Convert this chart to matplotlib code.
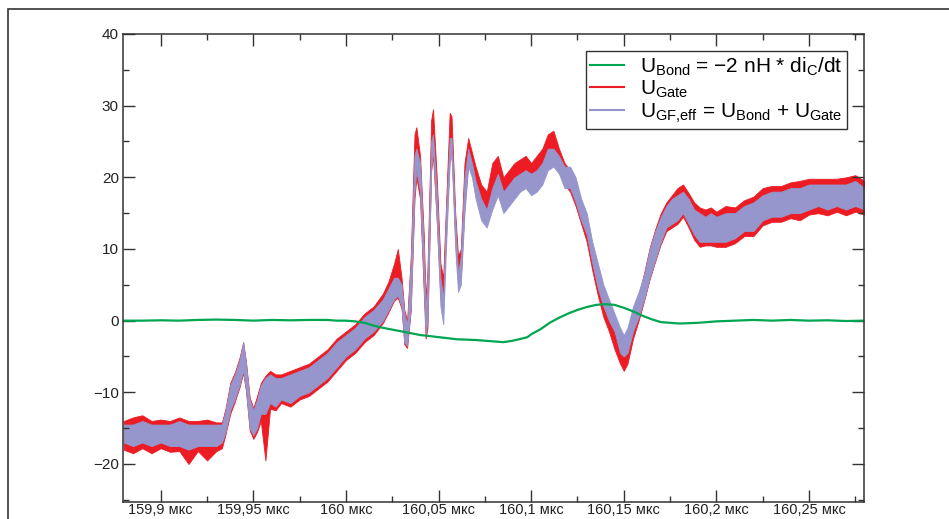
import matplotlib
matplotlib.use("Agg")
import matplotlib.pyplot as plt
from matplotlib.lines import Line2D
from matplotlib.patches import Rectangle
from matplotlib.ticker import MultipleLocator, FuncFormatter

plt.rcParams['font.family'] = ['Liberation Sans', 'DejaVu Sans']
plt.rcParams['mathtext.fontset'] = 'custom'
plt.rcParams['mathtext.rm'] = 'Liberation Sans'

# ---- data (time in us, voltage in V) ----
# noisy signals given as lower / upper envelope of the trace
t_sig = [159.880, 159.885, 159.890, 159.895, 159.900, 159.905, 159.910, 159.915,
         159.920, 159.925, 159.930, 159.933, 159.935, 159.9375, 159.940, 159.9425,
         159.9445, 159.946, 159.948, 159.950, 159.952, 159.954, 159.9565, 159.959,
         159.962, 159.965, 159.970, 159.975, 159.980, 159.985, 159.990, 159.995,
         160.000, 160.005, 160.010, 160.015, 160.020, 160.023, 160.026, 160.028,
         160.030, 160.0315, 160.033, 160.035, 160.037, 160.038, 160.040, 160.042,
         160.043, 160.044, 160.046, 160.047, 160.049, 160.051, 160.0525, 160.054,
         160.056, 160.057, 160.059, 160.0605, 160.062, 160.064, 160.066, 160.068,
         160.070, 160.073, 160.076, 160.079, 160.082, 160.085, 160.088, 160.091,
         160.094, 160.097, 160.100, 160.103, 160.106, 160.109, 160.112, 160.115,
         160.118, 160.121, 160.124, 160.127, 160.130, 160.133, 160.136, 160.139,
         160.142, 160.145, 160.148, 160.150, 160.152, 160.155, 160.158, 160.161,
         160.164, 160.167, 160.170, 160.173, 160.176, 160.179, 160.182, 160.185,
         160.188, 160.191, 160.194, 160.197, 160.200, 160.205, 160.210, 160.215,
         160.220, 160.225, 160.230, 160.235, 160.240, 160.245, 160.250, 160.255,
         160.260, 160.265, 160.270, 160.275, 160.280]

u_gf_lo = [-17.0, -17.5, -17.0, -17.5, -17.0, -17.5, -17.5, -18.0,
           -17.5, -17.5, -17.5, -17.0, -15.5, -12.5, -11.0, -9.0,
           -7.0, -9.5, -15.0, -16.0, -15.0, -13.0, -13.0, -11.5,
           -12.0, -11.0, -11.5, -10.5, -10.0, -9.0, -8.0, -6.5,
           -5.0, -4.0, -2.5, -1.5, 0.0, 1.5, 3.0, 3.5,
           2.0, -3.0, -3.5, 2.0, 18.0, 21.0, 18.0, 5.0,
           -2.0, 0.0, 21.0, 24.0, 14.0, 2.0, -0.5, 10.0,
           22.0, 23.0, 10.0, 4.0, 5.0, 15.0, 21.5, 20.0,
           17.0, 14.0, 13.0, 15.5, 17.5, 15.0, 16.0, 17.0,
           18.0, 18.5, 17.5, 18.0, 19.0, 21.0, 21.5, 20.5,
           18.5, 18.5, 16.5, 14.0, 12.0, 8.0, 4.5, 2.0,
           0.0, -1.5, -4.5, -5.0, -4.5, -1.5, 0.5, 3.0,
           6.0, 8.5, 11.0, 13.0, 13.5, 14.0, 15.0, 13.5,
           12.0, 11.0, 11.0, 11.0, 11.0, 11.0, 11.5, 12.5,
           12.5, 14.0, 14.5, 14.5, 15.0, 15.0, 15.5, 16.0,
           15.5, 16.0, 15.5, 16.0, 15.5]

u_gf_hi = [-14.5, -14.5, -14.0, -14.5, -14.5, -14.5, -14.0, -14.5,
           -14.5, -14.5, -14.5, -14.5, -12.5, -9.0, -7.5, -5.5,
           -3.0, -6.0, -11.0, -12.5, -11.0, -9.0, -8.0, -7.5,
           -8.0, -8.0, -7.5, -7.0, -6.5, -5.5, -4.5, -3.0,
           -2.0, -1.0, 0.5, 1.5, 3.0, 4.5, 6.0, 6.0,
           5.0, 1.0, -0.5, 8.0, 23.0, 24.0, 22.0, 10.0,
           1.0, 6.0, 25.0, 26.0, 18.0, 6.0, 3.0, 15.0,
           25.5, 25.5, 14.0, 6.5, 9.0, 20.0, 24.0, 22.0,
           19.5, 17.0, 15.5, 18.5, 20.5, 18.0, 19.0, 20.0,
           20.5, 21.0, 20.5, 21.0, 22.0, 24.0, 24.0, 23.0,
           21.5, 21.5, 20.0, 17.0, 15.0, 11.0, 8.0, 5.0,
           3.0, 1.0, -1.0, -2.0, -1.0, 2.0, 4.0, 6.5,
           10.0, 12.5, 14.5, 16.0, 17.0, 17.5, 18.0, 17.0,
           15.5, 15.0, 14.5, 15.0, 14.5, 15.0, 15.0, 16.0,
           16.5, 17.5, 18.0, 18.0, 18.5, 18.5, 19.0, 19.0,
           19.0, 19.0, 19.0, 19.5, 18.5]

u_gate_lo = [-18.0, -18.5, -17.8, -18.5, -17.8, -18.3, -18.2, -20.0,
             -18.2, -19.5, -18.2, -17.8, -15.8, -13.0, -11.3, -9.3,
             -7.3, -9.8, -15.3, -16.5, -15.5, -14.0, -19.5, -12.3,
             -12.5, -11.5, -12.0, -11.0, -10.5, -9.5, -8.5, -7.0,
             -5.5, -4.5, -3.0, -2.0, -0.3, 1.2, 2.8, 3.2,
             1.7, -3.3, -3.8, 1.5, 17.0, 20.0, 17.0, 4.0,
             -2.5, -1.0, 21.0, 23.0, 14.0, 3.0, 3.0, 12.0,
             23.0, 24.0, 11.0, 5.5, 6.0, 16.0, 22.0, 20.5,
             18.5, 16.0, 15.0, 18.0, 19.0, 17.0, 18.0, 19.0,
             20.0, 20.0, 19.5, 19.5, 20.5, 22.5, 22.5, 21.0,
             19.0, 18.0, 16.0, 13.5, 11.0, 7.0, 3.5, 0.5,
             -1.5, -4.0, -6.0, -7.0, -6.0, -2.5, 0.0, 2.8,
             5.8, 8.3, 10.7, 12.5, 13.0, 13.5, 14.5, 13.0,
             11.3, 10.3, 10.5, 10.5, 10.3, 10.3, 10.8, 11.8,
             11.8, 13.3, 13.8, 13.8, 14.3, 14.0, 14.8, 15.0,
             14.7, 15.2, 14.7, 15.2, 14.8]

u_gate_hi = [-14.0, -13.5, -13.2, -14.0, -13.8, -14.0, -13.5, -14.0,
             -14.0, -13.8, -14.2, -14.2, -12.2, -8.7, -7.2, -5.2,
             -3.0, -5.7, -10.7, -12.2, -10.5, -8.7, -7.7, -7.0,
             -7.5, -7.5, -7.0, -6.5, -6.0, -5.0, -4.0, -2.5,
             -1.5, -0.5, 1.0, 2.0, 3.8, 5.5, 8.0, 10.0,
             6.0, 1.5, 0.0, 9.0, 26.0, 27.0, 23.0, 12.0,
             3.0, 7.0, 28.0, 29.5, 20.0, 8.0, 6.0, 16.0,
             29.0, 28.5, 15.0, 9.0, 10.0, 22.0, 25.5, 23.5,
             21.5, 19.0, 18.0, 22.0, 23.0, 20.0, 21.0, 22.0,
             22.5, 23.0, 22.0, 23.0, 24.0, 26.0, 26.5, 24.0,
             22.0, 21.0, 19.5, 16.5, 14.0, 10.0, 7.0, 4.0,
             1.5, -0.5, -2.5, -2.5, -1.5, 1.5, 3.5, 6.7,
             10.2, 12.8, 15.0, 16.5, 17.5, 18.5, 19.0, 17.8,
             16.5, 15.8, 15.5, 15.8, 15.2, 16.0, 15.8, 16.8,
             17.3, 18.5, 18.8, 18.8, 19.3, 19.5, 19.8, 19.8,
             19.8, 19.8, 20.0, 20.3, 19.5]

# bond inductance voltage (smooth trace)
t_bond = [159.880, 159.890, 159.900, 159.910, 159.920, 159.930, 159.940, 159.950,
          159.960, 159.970, 159.980, 159.990, 159.995, 160.000, 160.005, 160.010,
          160.015, 160.020, 160.030, 160.040, 160.050, 160.060, 160.070, 160.080,
          160.085, 160.090, 160.095, 160.098, 160.100, 160.105, 160.110, 160.115,
          160.120, 160.125, 160.130, 160.135, 160.140, 160.145, 160.150, 160.155,
          160.160, 160.165, 160.170, 160.175, 160.180, 160.190, 160.200, 160.210,
          160.220, 160.230, 160.240, 160.250, 160.260, 160.270, 160.280]
u_bond = [0.0, 0.0, 0.05, 0.0, 0.1, 0.15, 0.1, 0.0,
          0.1, 0.05, 0.1, 0.1, 0.0, 0.0, -0.1, -0.3,
          -0.7, -1.0, -1.5, -2.0, -2.3, -2.6, -2.7, -2.9,
          -3.0, -2.8, -2.5, -2.3, -1.9, -1.2, -0.3, 0.4,
          1.0, 1.5, 1.9, 2.2, 2.3, 2.2, 1.8, 1.3,
          0.7, 0.2, -0.2, -0.3, -0.4, -0.3, -0.1, 0.0,
          0.1, 0.0, 0.1, 0.0, 0.05, -0.05, 0.0]

green = '#00A651'
red = '#ED1C24'
lilac = '#9696CC'

fig = plt.figure(figsize=(9.49, 5.19), dpi=100)
ax = fig.add_axes([0.1296, 0.0328, 0.7808, 0.9017])

ax.fill_between(t_sig, u_gate_lo, u_gate_hi, color=red, lw=0.6)
ax.fill_between(t_sig, u_gf_lo, u_gf_hi, color=lilac, lw=0.6)
ax.plot(t_bond, u_bond, color=green, lw=1.6)

ax.set_xlim(159.8796, 160.2797)
ax.set_ylim(-25.3, 40)

ax.xaxis.set_major_locator(MultipleLocator(0.05))
ax.xaxis.set_minor_locator(MultipleLocator(0.025))
ax.yaxis.set_major_locator(MultipleLocator(10))
ax.yaxis.set_minor_locator(MultipleLocator(5))
ax.xaxis.set_major_formatter(
    FuncFormatter(lambda v, p: f"{v:g}".replace('.', ',') + " мкс"))

ax.tick_params(which='both', direction='in', top=True, right=True,
               width=1.0, color='#333333', labelcolor='#222222')
ax.tick_params(which='major', length=8.5)
ax.tick_params(which='minor', length=4.5)
ax.tick_params(axis='x', labelsize=10.5, pad=1)
ax.tick_params(axis='y', labelsize=11, pad=3)
for s in ax.spines.values():
    s.set_linewidth(1.1)
    s.set_color('#333333')

handles = [Line2D([], [], color=green, lw=1.5),
           Line2D([], [], color=red, lw=1.5),
           Line2D([], [], color=lilac, lw=1.5)]
labels = [r'U$_{\mathregular{Bond}}$ = $\mathregular{-}$2 nH * di$_{\mathregular{C}}$/dt',
          r'U$_{\mathregular{Gate}}$',
          r'U$_{\mathregular{GF{,}eff}}$ = U$_{\mathregular{Bond}}$ + U$_{\mathregular{Gate}}$']
leg = ax.legend(handles, labels, loc='upper right', bbox_to_anchor=(0.977, 0.9637),
                fontsize=15, fancybox=False, framealpha=1, edgecolor='#333333',
                handlelength=1.6, handletextpad=0.8, borderpad=0.2,
                labelspacing=0.05, borderaxespad=0)
leg.get_frame().set_linewidth(1.0)

# outer frame of the original figure (cropped at right and bottom)
fig.add_artist(Rectangle((8 / 949, -0.1), 1.2, 1 - 9 / 519 + 0.1,
                         transform=fig.transFigure, fill=False,
                         lw=1.2, ec='#333333'))

fig.savefig('out.png', dpi=100)
